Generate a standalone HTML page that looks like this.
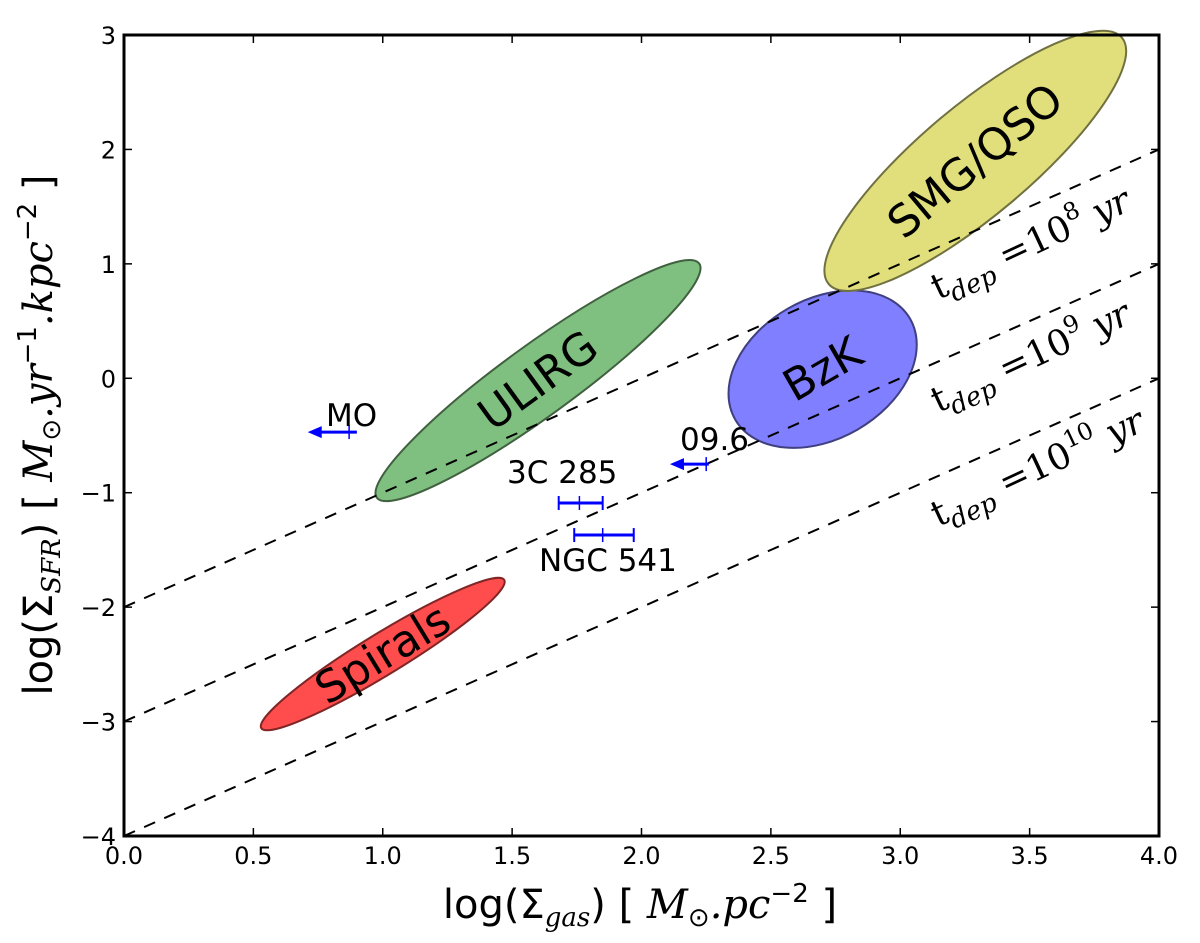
<!DOCTYPE html>
<html><head><meta charset="utf-8"><style>
html,body{margin:0;padding:0;background:#fff}
svg text{font-family:"DejaVu Sans","Liberation Sans",sans-serif}
.m{font-family:"DejaVu Serif","Liberation Serif",serif;font-style:italic}
</style></head><body>
<svg id="chart" width="1200" height="938" viewBox="0 0 1200 938" xmlns="http://www.w3.org/2000/svg">
<g id="plot"></g>
</svg>
<script>
const xTicks=[0.0,0.5,1.0,1.5,2.0,2.5,3.0,3.5,4.0];
const yTicks=[-4,-3,-2,-1,0,1,2,3];
const depOffsets=[-2,-3,-4];
const depExps=['8','9','10'];
const regionNames=['Spirals','ULIRG','BzK','SMG/QSO'];
const regionCx=[1.0,1.6,2.7,3.29];
const regionCy=[-2.41,-0.02,0.08,1.9];
const regionRx=[0.55,0.77,0.39,0.74];
const regionRy=[0.18,0.31,0.61,0.48];
const regionAngle=[-31.4,-36,-30,-40];
const regionFill=['#ff4c4c','#7fbf7f','#7f7fff','#e0df7b'];
const regionStroke=['#802626','#406040','#404080','#707040'];
const pointNames=['MO','3C 285','NGC 541','09.6'];
const pointX=[0.87,1.76,1.85,2.25];
const pointY=[-0.47,-1.09,-1.37,-0.75];
const pointXmin=[null,1.68,1.74,null];
const pointXmax=[0.90,1.85,1.97,2.26];
const pointArrow=[0.71,null,null,2.11];
const X0=124,X1=1159,Y0=836,Y1=35;
const sx=v=>X0+(v-0)/4*(X1-X0);
const sy=v=>Y0-(v+4)/7*(Y0-Y1);
const NS='http://www.w3.org/2000/svg';
const g=document.getElementById('plot');
function el(t,a,p){const e=document.createElementNS(NS,t);for(const k in a)e.setAttribute(k,a[k]);(p||g).appendChild(e);return e;}
regionNames.forEach((n,i)=>{
 const grp=el('g',{transform:`translate(${sx(regionCx[i])},${sy(regionCy[i])}) rotate(${regionAngle[i]})`});
 
 
 const rx=regionRx[i]*(X1-X0)/4, ry=regionRy[i]*(Y0-Y1)/7;
 el('ellipse',{cx:0,cy:0,rx:rx,ry:ry,fill:regionFill[i],stroke:regionStroke[i],'stroke-width':2},grp);
 const t=el('text',{x:0,y:15,'text-anchor':'middle','font-size':44},grp);t.textContent=n;
});
depOffsets.forEach((o,i)=>{
 const xa=Math.max(0,-4-o), xb=Math.min(4,3-o);
 const l=el('line',{x1:sx(xa),y1:sy(xa+o),x2:sx(xb),y2:sy(xb+o),stroke:'#000','stroke-width':2,'stroke-dasharray':'12,10'});
 
 
});
const labY=[300,413,527];
depExps.forEach((e,i)=>{
 const t=el('text',{x:938,y:labY[i],class:'m','font-size':36,transform:`rotate(-25 938 ${labY[i]})`});
 
 
 t.innerHTML=`<tspan font-style="normal">t</tspan><tspan font-size="26" dy="9">dep</tspan><tspan dy="-9" font-style="normal"> =10</tspan><tspan font-size="24" dy="-16" font-style="normal">${e}</tspan><tspan dy="16"> yr</tspan>`;
});
const labPos=[[326,426],[507,483],[539,571],[680,450]];
pointNames.forEach((n,i)=>{
 const grp=el('g',{});
 
 
 const y=sy(pointY[i]), x=sx(pointX[i]);
 if(pointArrow[i]!==null){
  const xa=sx(pointArrow[i]);
  el('line',{x1:xa+12,y1:y,x2:sx(pointXmax[i]),y2:y,stroke:'#0000ff','stroke-width':3},grp);
  el('polygon',{points:`${xa},${y} ${xa+14},${y-6} ${xa+14},${y+6}`,fill:'#0000ff'},grp);
  el('line',{x1:x,y1:y-7,x2:x,y2:y+7,stroke:'#0000ff','stroke-width':1.5},grp);
 } else {
  const a=sx(pointXmin[i]),b=sx(pointXmax[i]);
  el('line',{x1:a,y1:y,x2:b,y2:y,stroke:'#0000ff','stroke-width':3},grp);
  [a,b].forEach(v=>el('line',{x1:v,y1:y-7,x2:v,y2:y+7,stroke:'#0000ff','stroke-width':2},grp));
  el('line',{x1:x,y1:y-7,x2:x,y2:y+7,stroke:'#0000ff','stroke-width':1.5},grp);
 }
 const t=el('text',{x:labPos[i][0],y:labPos[i][1],'font-size':31},grp);t.textContent=n;
});
const fr=el('rect',{x:X0,y:Y1,width:X1-X0,height:Y0-Y1,fill:'none',stroke:'#000','stroke-width':3});


xTicks.forEach(v=>{
 el('line',{x1:sx(v),y1:Y0,x2:sx(v),y2:Y0-8,stroke:'#000','stroke-width':1.5});
 el('line',{x1:sx(v),y1:Y1,x2:sx(v),y2:Y1+8,stroke:'#000','stroke-width':1.5});
 const t=el('text',{x:sx(v),y:Y0+28,'text-anchor':'middle','font-size':24});t.textContent=v.toFixed(1);
 
 
});
yTicks.forEach(v=>{
 el('line',{x1:X0,y1:sy(v),x2:X0+8,y2:sy(v),stroke:'#000','stroke-width':1.5});
 el('line',{x1:X1,y1:sy(v),x2:X1-8,y2:sy(v),stroke:'#000','stroke-width':1.5});
 const t=el('text',{x:X0-8,y:sy(v)+9,'text-anchor':'end','font-size':24});t.textContent=v<0?'\u2212'+(-v):String(v);
 
 
});
const xt=el('text',{x:640,y:918,'text-anchor':'middle','font-size':40});


xt.innerHTML='log(Σ<tspan font-size="26" dy="8" class="m">gas</tspan><tspan dy="-8">) [ </tspan><tspan class="m">M</tspan><tspan font-size="26" dy="8">⊙</tspan><tspan dy="-8" class="m">.pc</tspan><tspan font-size="26" dy="-16">−2</tspan><tspan dy="16">  ]</tspan>';
const yt=el('text',{x:0,y:0,'text-anchor':'middle','font-size':40,transform:'translate(52,435) rotate(-90)'});


yt.innerHTML='log(Σ<tspan font-size="26" dy="8" class="m">SFR</tspan><tspan dy="-8">) [ </tspan><tspan class="m">M</tspan><tspan font-size="26" dy="8">⊙</tspan><tspan dy="-8" class="m">.yr</tspan><tspan font-size="26" dy="-16">−1</tspan><tspan dy="16" class="m">.kpc</tspan><tspan font-size="26" dy="-16">−2</tspan><tspan dy="16">  ]</tspan>';
</script>
</body></html>
